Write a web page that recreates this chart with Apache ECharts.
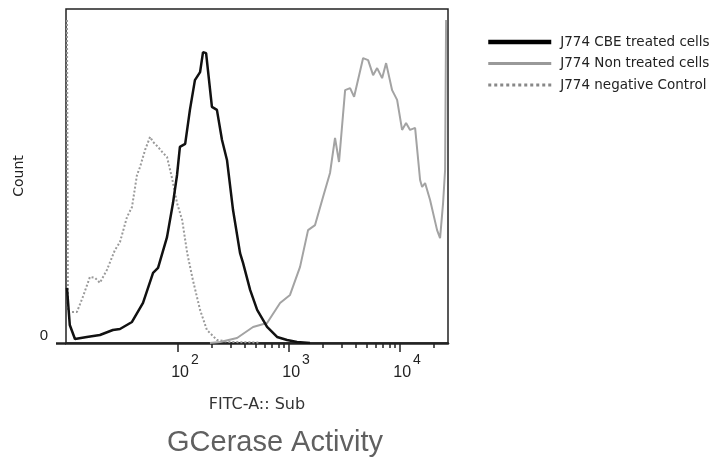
<!DOCTYPE html>
<html><head><meta charset="utf-8">
<script src="https://cdn.jsdelivr.net/npm/echarts@6/dist/echarts.min.js"></script>
<style>html,body{margin:0;padding:0;background:#fff}#c{width:717px;height:457px}</style>
</head><body><div id="c"></div>
<script>
// FITC-A intensity (x) and relative count (% of full scale, y)
const cbeTreated = [
  [10.0,16.5],[10.6,5.4],[11.8,1.2],[15.1,1.8],[19.8,2.4],[25.9,3.9],[30.0,4.2],[38.5,6.3],
  [48.4,12.0],[59.6,21.0],[66.1,22.5],[79.6,31.7],[90.1,41.9],[98,50.3],[104,58.7],[116,59.6],
  [128,69.8],[142,78.7],[158,81.1],[168,87.1],[179,86.8],[202,70.7],[224,69.8],[249,60.8],
  [276,54.8],[313,39.8],[362,26.9],[385,24.0],[446,15.9],[516,9.9],[634,4.8],[780,1.8],
  [960,0.9],[1180,0.3],[1545,0]
];
const nonTreated = [
  [194,0],[239,0.3],[340,1.5],[474,4.8],[634,6.0],[830,12.0],[1020,14.4],[1256,22.8],
  [1483,33.8],[1714,35.3],[2023,43.7],[2338,50.9],[2594,61.4],[2818,54.2],[3197,75.7],
  [3546,76.3],[3853,73.7],[4645,85.3],[5152,84.7],[5714,80.2],[6210,82.3],[6887,79.3],
  [7481,83.8],[8472,75.7],[9397,72.8],[10420,63.8],[11320,65.9],[12300,63.8],[13650,64.4],
  [15140,48.8],[15780,46.7],[16790,47.9],[18620,42.8],[21530,33.8],[22910,31.4],[24380,41.9],
  [25420,51.8],[25950,96.7]
];
const negativeControl = [
  [10.0,96.7],[10.2,9.3],[11.1,9.3],[12.3,9.3],[13.9,13.8],[16.1,19.8],[17.9,19.5],[19.8,18.0],
  [22.9,21.9],[27.0,27.8],[30.0,30.2],[34.7,37.7],[38.5,40.7],[42.7,50.3],[45.5,52.7],
  [50.5,57.8],[56.0,61.7],[59.6,60.2],[66.1,58.7],[73.3,56.9],[79.6,55.7],[88.3,49.4],
  [98.0,41.9],[109,36.8],[121,26.9],[136,18.9],[158,9.9],[182,3.9],[224,0.9],[294,0.3],[548,0.15]
];
const seriesNames = ['J774 CBE treated cells','J774 Non treated cells','J774 negative Control'];
const majorTicks = [100,1000,10000];
const minorTicks = [200,300,400,500,600,700,800,900,2000,3000,4000,5000,6000,7000,8000,9000,20000];
const yTicks = [0];
const xMin = 9.8, xMax = 27000;

const chart = echarts.init(document.getElementById('c'));
const font = 'Liberation Sans, Arial, sans-serif';
const wide = 'DejaVu Sans, sans-serif';
chart.setOption({
  animation:false,
  textStyle:{fontFamily:font},
  title:{text:'GCerase Activity',left:162,top:423,textStyle:{fontSize:29,fontWeight:'normal',color:'#606060',fontFamily:font}},
  legend:{
    orient:'vertical',left:481,top:30,itemWidth:63,itemHeight:12,itemGap:7.5,
    itemStyle:{opacity:0},
    textStyle:{fontSize:13.5,color:'#222',fontFamily:wide,padding:[0,0,0,4]},
    data:[
      {name:seriesNames[0],lineStyle:{width:4.5,color:'#000'}},
      {name:seriesNames[1],lineStyle:{width:3,color:'#999'}},
      {name:seriesNames[2],lineStyle:{width:3,color:'#888',type:'dotted'}}
    ]
  },
  grid:{left:66,right:269,top:9,bottom:114,show:true,borderColor:'#222',borderWidth:1.5,containLabel:false},
  xAxis:[{
    type:'log',logBase:10,min:xMin,max:xMax,
    name:'FITC-A:: Sub',nameLocation:'middle',nameGap:54,
    nameTextStyle:{fontSize:16,color:'#333',fontFamily:wide},
    axisLine:{show:true,lineStyle:{color:'#222',width:2.5}},
    axisTick:{show:true,length:9,customValues:majorTicks,lineStyle:{color:'#222',width:1.5}},
    axisLabel:{customValues:majorTicks,margin:10,
      formatter:v=>'{b|10}{s|'+Math.round(Math.log10(v))+'}',
      rich:{b:{fontSize:16,color:'#222',padding:[12,0,0,14]},s:{fontSize:14,color:'#222',verticalAlign:'top',padding:[0,0,0,2]}}},
    splitLine:{show:false}
  },{
    type:'log',logBase:10,min:xMin,max:xMax,position:'bottom',
    axisLine:{show:false},
    axisTick:{show:true,length:5,customValues:minorTicks,lineStyle:{color:'#222',width:1.5}},
    axisLabel:{show:false},splitLine:{show:false}
  }],
  yAxis:{
    type:'value',min:0,max:100,
    name:'Count',nameLocation:'middle',nameGap:40,
    nameTextStyle:{fontSize:14,color:'#222',fontFamily:wide},
    axisLine:{show:false},
    axisTick:{show:true,length:10,customValues:yTicks,lineStyle:{color:'#222',width:2.5}},
    axisLabel:{customValues:yTicks,margin:18,fontSize:15,color:'#222',verticalAlign:'bottom'},
    splitLine:{show:false}
  },
  series:[
    {name:seriesNames[0],type:'line',data:cbeTreated,showSymbol:false,symbol:'none',
     lineStyle:{color:'#111',width:2.5},itemStyle:{color:'#111'},z:4},
    {name:seriesNames[1],type:'line',data:nonTreated,showSymbol:false,symbol:'none',
     lineStyle:{color:'#a3a3a3',width:2},itemStyle:{color:'#a3a3a3'},z:3},
    {name:seriesNames[2],type:'line',data:negativeControl,showSymbol:false,symbol:'none',
     lineStyle:{color:'#9a9a9a',width:2,type:'dotted'},itemStyle:{color:'#9a9a9a'},z:2}
  ]
});
</script></body></html>
